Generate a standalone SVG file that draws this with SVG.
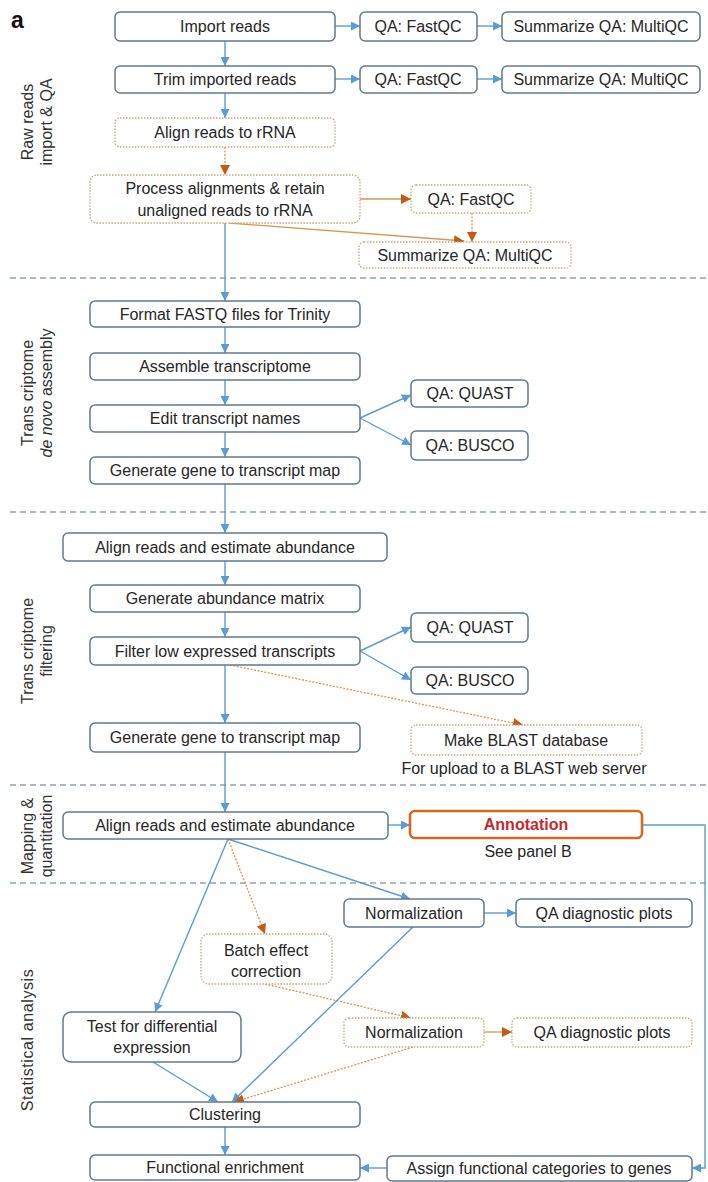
<svg xmlns="http://www.w3.org/2000/svg" width="708" height="1182" viewBox="0 0 708 1182">
  <defs>
    <marker id="arrow-blue" viewBox="0 0 10 10" markerUnits="userSpaceOnUse" markerWidth="9" markerHeight="9" refX="10" refY="5" orient="auto">
      <path d="M0,0 L10,5 L0,10 z" fill="#5b9bd5"/>
    </marker>
    <marker id="arrow-orange" viewBox="0 0 10 10" markerUnits="userSpaceOnUse" markerWidth="10" markerHeight="10" refX="10" refY="5" orient="auto">
      <path d="M0,0 L10,5 L0,10 z" fill="#c55a11"/>
    </marker>
    <style>
      text { font-family: "Liberation Sans", Arial, sans-serif; fill: #262626; }
      .lbl { font-size: 16px; text-anchor: middle; }
      .side { font-size: 16px; text-anchor: middle; fill: #333; }
      .box { fill: #ffffff; stroke: #5d7b90; stroke-width: 1.5; }
      .dot { fill: #ffffff; stroke: #c9a77c; stroke-width: 1.3; stroke-dasharray: 1.5 1.5; }
      .sep { stroke: #8ea2b0; stroke-width: 1.5; stroke-dasharray: 6 4; fill: none; }
      .cb { stroke: #5b9bd5; stroke-width: 1.4; fill: none; marker-end: url(#arrow-blue); }
      .cbn { stroke: #5b9bd5; stroke-width: 1.4; fill: none; }
      .co { stroke: #d9954f; stroke-width: 1.3; stroke-dasharray: 2 1.5; fill: none; marker-end: url(#arrow-orange); }
      .cos { stroke: #d9954f; stroke-width: 1.3; fill: none; marker-end: url(#arrow-orange); }
    </style>
  </defs>

  <!-- panel letter -->
  <text x="11" y="28" style="font-size:23px;font-weight:bold;fill:#111">a</text>

  <!-- section separators -->
  <g id="separators">
    <line class="sep" x1="10" y1="278" x2="708" y2="278"/>
    <line class="sep" x1="10" y1="512" x2="708" y2="512"/>
    <line class="sep" x1="10" y1="785" x2="708" y2="785"/>
    <line class="sep" x1="10" y1="883" x2="708" y2="883"/>
  </g>

  <!-- section titles -->
  <g id="section-labels">
    <text class="side" transform="translate(33,122) rotate(-90)"><tspan x="0" y="0">Raw reads</tspan><tspan x="0" y="19">import &amp; QA</tspan></text>
    <text class="side" transform="translate(33,393) rotate(-90)"><tspan x="0" y="0">Trans criptome</tspan><tspan x="0" y="19"><tspan font-style="italic">de novo</tspan> assembly</tspan></text>
    <text class="side" transform="translate(33,651) rotate(-90)"><tspan x="0" y="0">Trans criptome</tspan><tspan x="0" y="19">filtering</tspan></text>
    <text class="side" transform="translate(33,836) rotate(-90)"><tspan x="0" y="0">Mapping &amp;</tspan><tspan x="0" y="19">quantitation</tspan></text>
    <text class="side" transform="translate(33,1040) rotate(-90)" letter-spacing="0.6">Statistical analysis</text>
  </g>

  <!-- connectors -->
  <g id="connectors">
    <line class="cb" x1="225" y1="41" x2="225" y2="66"/>
    <line class="cb" x1="225" y1="93" x2="225" y2="118"/>
    <line class="co" x1="225" y1="147" x2="225" y2="175"/>
    <line class="cb" x1="335" y1="26" x2="360" y2="26"/>
    <line class="cb" x1="477" y1="26" x2="502" y2="26"/>
    <line class="cb" x1="335" y1="79" x2="360" y2="79"/>
    <line class="cb" x1="477" y1="79" x2="502" y2="79"/>
    <line class="cos" x1="360" y1="199" x2="411" y2="199"/>
    <line class="cos" x1="229" y1="223" x2="464" y2="241"/>
    <line class="co" x1="472" y1="213" x2="472" y2="242"/>
    <line class="cb" x1="225" y1="223" x2="225" y2="301"/>
    <line class="cb" x1="225" y1="327" x2="225" y2="353"/>
    <line class="cb" x1="225" y1="380" x2="225" y2="405"/>
    <line class="cb" x1="225" y1="432" x2="225" y2="457"/>
    <line class="cb" x1="360" y1="418" x2="411" y2="395"/>
    <line class="cb" x1="360" y1="418" x2="411" y2="445"/>
    <line class="cb" x1="225" y1="484" x2="225" y2="533"/>
    <line class="cb" x1="225" y1="561" x2="225" y2="585"/>
    <line class="cb" x1="225" y1="612" x2="225" y2="637"/>
    <line class="cb" x1="360" y1="651" x2="411" y2="627"/>
    <line class="cb" x1="360" y1="651" x2="411" y2="680"/>
    <line class="cb" x1="225" y1="665" x2="225" y2="723"/>
    <line class="co" x1="230" y1="665" x2="523" y2="725"/>
    <line class="cb" x1="225" y1="752" x2="225" y2="812"/>
    <line class="cb" x1="388" y1="825" x2="410" y2="825"/>
    <polyline class="cb" points="642,825 705,825 705,1168 692,1168"/>
    <line class="cb" x1="228" y1="839" x2="410" y2="899"/>
    <line class="co" x1="228" y1="839" x2="265" y2="934"/>
    <line class="cb" x1="228" y1="839" x2="155" y2="1012"/>
    <line class="cb" x1="484" y1="913" x2="516" y2="913"/>
    <line class="co" x1="265" y1="984" x2="411" y2="1018"/>
    <line class="cos" x1="484" y1="1032" x2="512" y2="1032"/>
    <line class="cb" x1="413" y1="927" x2="232" y2="1102"/>
    <line class="co" x1="413" y1="1047" x2="234" y2="1102"/>
    <line class="cb" x1="153" y1="1062" x2="218" y2="1102"/>
    <line class="cb" x1="225" y1="1127" x2="225" y2="1155"/>
    <line class="cb" x1="387" y1="1168" x2="360" y2="1168"/>
  </g>

  <!-- raw reads import & QA -->
  <g id="import-reads"><rect class="box" x="115" y="12" width="220" height="29" rx="5"/><text class="lbl" x="225" y="32">Import reads</text></g>
  <g id="fastqc-1"><rect class="box" x="360" y="12" width="117" height="29" rx="5"/><text class="lbl" x="418" y="32">QA: FastQC</text></g>
  <g id="multiqc-1"><rect class="box" x="502" y="12" width="198" height="29" rx="5"/><text class="lbl" x="601" y="32">Summarize QA: MultiQC</text></g>
  <g id="trim-reads"><rect class="box" x="115" y="66" width="220" height="27" rx="5"/><text class="lbl" x="225" y="85">Trim imported reads</text></g>
  <g id="fastqc-2"><rect class="box" x="360" y="66" width="117" height="27" rx="5"/><text class="lbl" x="418" y="85">QA: FastQC</text></g>
  <g id="multiqc-2"><rect class="box" x="502" y="66" width="198" height="27" rx="5"/><text class="lbl" x="601" y="85">Summarize QA: MultiQC</text></g>
  <g id="align-rrna"><rect class="dot" x="115" y="118" width="220" height="29" rx="5"/><text class="lbl" x="225" y="138">Align reads to rRNA</text></g>
  <g id="process-alignments"><rect class="dot" x="90" y="175" width="270" height="48" rx="7"/><text class="lbl" x="225" y="194">Process alignments &amp; retain</text><text class="lbl" x="225" y="216">unaligned reads to rRNA</text></g>
  <g id="fastqc-3"><rect class="dot" x="411" y="185" width="120" height="28" rx="5"/><text class="lbl" x="471" y="205">QA: FastQC</text></g>
  <g id="multiqc-3"><rect class="dot" x="359" y="242" width="212" height="26" rx="5"/><text class="lbl" x="465" y="261">Summarize QA: MultiQC</text></g>

  <!-- de novo assembly -->
  <g id="format-fastq"><rect class="box" x="90" y="301" width="270" height="26" rx="5"/><text class="lbl" x="225" y="320">Format FASTQ files for Trinity</text></g>
  <g id="assemble"><rect class="box" x="90" y="353" width="270" height="27" rx="5"/><text class="lbl" x="225" y="372">Assemble transcriptome</text></g>
  <g id="edit-names"><rect class="box" x="90" y="405" width="270" height="27" rx="5"/><text class="lbl" x="225" y="424">Edit transcript names</text></g>
  <g id="gene-map-1"><rect class="box" x="90" y="457" width="270" height="27" rx="5"/><text class="lbl" x="225" y="476">Generate gene to transcript map</text></g>
  <g id="quast-1"><rect class="box" x="411" y="380" width="117" height="27" rx="5"/><text class="lbl" x="470" y="399">QA: QUAST</text></g>
  <g id="busco-1"><rect class="box" x="411" y="431" width="117" height="29" rx="5"/><text class="lbl" x="470" y="451">QA: BUSCO</text></g>

  <!-- filtering -->
  <g id="align-abundance-1"><rect class="box" x="63" y="533" width="324" height="28" rx="5"/><text class="lbl" x="225" y="553">Align reads and estimate abundance</text></g>
  <g id="abundance-matrix"><rect class="box" x="90" y="585" width="270" height="27" rx="5"/><text class="lbl" x="225" y="604">Generate abundance matrix</text></g>
  <g id="filter-low"><rect class="box" x="90" y="637" width="270" height="28" rx="5"/><text class="lbl" x="225" y="657">Filter low expressed transcripts</text></g>
  <g id="gene-map-2"><rect class="box" x="90" y="723" width="270" height="29" rx="5"/><text class="lbl" x="225" y="743">Generate gene to transcript map</text></g>
  <g id="quast-2"><rect class="box" x="411" y="613" width="117" height="29" rx="5"/><text class="lbl" x="470" y="633">QA: QUAST</text></g>
  <g id="busco-2"><rect class="box" x="411" y="667" width="117" height="27" rx="5"/><text class="lbl" x="470" y="686">QA: BUSCO</text></g>
  <g id="blast-db"><rect class="dot" x="411" y="725" width="231" height="30" rx="5"/><text class="lbl" x="526" y="746">Make BLAST database</text><text class="lbl" x="524" y="774">For upload to a BLAST web server</text></g>

  <!-- mapping & quantitation -->
  <g id="align-abundance-2"><rect class="box" x="63" y="812" width="325" height="27" rx="5"/><text class="lbl" x="225" y="831">Align reads and estimate abundance</text></g>
  <g id="annotation"><rect x="410" y="811" width="232" height="27" rx="5" fill="#ffffff" stroke="#d2691e" stroke-width="2.6"/><text class="lbl" x="526" y="830" style="fill:#c8282d;font-weight:bold">Annotation</text><text class="lbl" x="528" y="857">See panel B</text></g>

  <!-- statistical analysis -->
  <g id="normalization-1"><rect class="box" x="344" y="899" width="140" height="28" rx="5"/><text class="lbl" x="414" y="919">Normalization</text></g>
  <g id="qa-plots-1"><rect class="box" x="516" y="899" width="176" height="28" rx="5"/><text class="lbl" x="604" y="919">QA diagnostic plots</text></g>
  <g id="batch-correction"><rect class="dot" x="201" y="934" width="131" height="50" rx="8"/><text class="lbl" x="266" y="956">Batch effect</text><text class="lbl" x="266" y="977">correction</text></g>
  <g id="normalization-2"><rect class="dot" x="344" y="1018" width="140" height="29" rx="5"/><text class="lbl" x="414" y="1038">Normalization</text></g>
  <g id="qa-plots-2"><rect class="dot" x="512" y="1018" width="180" height="29" rx="5"/><text class="lbl" x="602" y="1038">QA diagnostic plots</text></g>
  <g id="diff-expression"><rect class="box" x="63" y="1012" width="178" height="50" rx="8"/><text class="lbl" x="152" y="1032">Test for differential</text><text class="lbl" x="152" y="1053">expression</text></g>
  <g id="clustering"><rect class="box" x="90" y="1102" width="270" height="25" rx="5"/><text class="lbl" x="225" y="1120">Clustering</text></g>
  <g id="functional-enrichment"><rect class="box" x="90" y="1155" width="270" height="25" rx="5"/><text class="lbl" x="225" y="1173">Functional enrichment</text></g>
  <g id="assign-categories"><rect class="box" x="387" y="1156" width="305" height="25" rx="5"/><text class="lbl" x="539" y="1174">Assign functional categories to genes</text></g>
</svg>
